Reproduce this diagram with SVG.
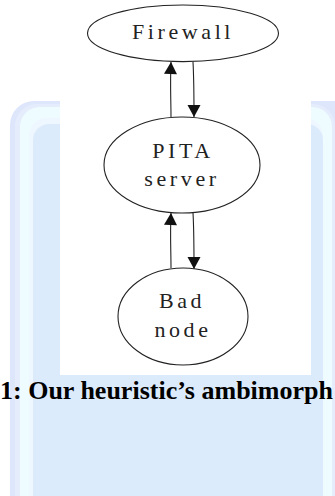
<svg xmlns="http://www.w3.org/2000/svg" width="335" height="496" viewBox="0 0 335 496">
  <defs>
    <marker id="ah" viewBox="0 0 12 16" refX="12" refY="8" markerWidth="13" markerHeight="16" markerUnits="userSpaceOnUse" orient="auto">
      <path d="M0,1.5 L12,8 L0,14.5 Z" fill="#111"/>
    </marker>
  </defs>
  <style>
    .node ellipse { fill: #ffffff; stroke: #222; stroke-width: 1.1; }
    .lbl { font-family: "Liberation Serif", "Times New Roman", serif; font-size: 22px; fill: #222; text-anchor: middle; letter-spacing: 3.6px; }
    .edge { fill: none; stroke: #222; stroke-width: 1.1; marker-end: url(#ah); }
    .cap { font-family: "Liberation Serif", "Times New Roman", serif; font-size: 26px; font-weight: bold; fill: #000; }
  </style>

  <!-- page background and frame -->
  <rect x="0" y="0" width="335" height="496" fill="#ffffff"/>
  <g id="frame">
    <rect x="10" y="101" width="360" height="500" rx="24" fill="#dde6fb"/>
    <rect x="15" y="104" width="320" height="500" rx="22" fill="#e5edfc"/>
    <rect x="20" y="107" width="312" height="500" rx="20" fill="#eefcff"/>
    <rect x="29" y="118" width="294" height="500" rx="18" fill="#eef6ff"/>
    <rect x="33" y="124" width="290" height="500" rx="16" fill="#dcebfc"/>
  </g>

  <!-- figure panel -->
  <rect x="60" y="0" width="251" height="375" fill="#ffffff"/>

  <g id="connectors">
    <path class="edge" d="M171,117 C171,100 170,85 171,62"/>
    <path class="edge" d="M193,62 C194,80 194,95 194,117"/>
    <path class="edge" d="M171,268 C171,250 170,236 171,213"/>
    <path class="edge" d="M193,213 C194,230 194,245 194,269"/>
  </g>

  <g id="firewall" class="node">
    <ellipse cx="183" cy="33.3" rx="95.5" ry="28.3"/>
    <text class="lbl" x="183" y="38.5">Firewall</text>
  </g>

  <g id="pita-server" class="node">
    <ellipse cx="182" cy="165" rx="78" ry="48"/>
    <text class="lbl" x="183" y="158">PITA</text>
    <text class="lbl" x="182" y="186">server</text>
  </g>

  <g id="bad-node" class="node">
    <ellipse cx="183" cy="316.5" rx="65" ry="48.5"/>
    <text class="lbl" x="182" y="308">Bad</text>
    <text class="lbl" x="183" y="337">node</text>
  </g>

  <g id="caption">
    <text class="cap" x="0" y="399">1: Our heuristic’s ambimorph</text>
  </g>
</svg>
